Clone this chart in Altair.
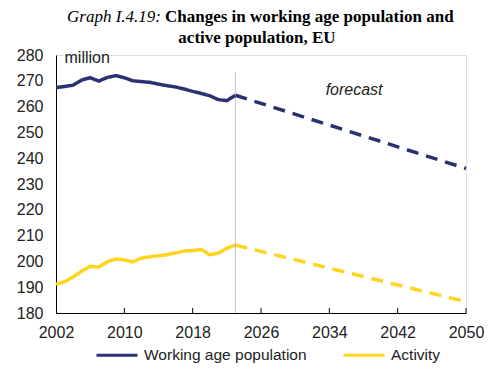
import altair as alt
import pandas as pd

years_hist = list(range(2002, 2024))
working_age = [267.4, 267.8, 268.3, 270.3, 271.2, 269.9, 271.3, 272.0, 271.2, 270.0,
               269.7, 269.4, 268.7, 268.1, 267.6, 266.8, 265.9, 265.1, 264.2, 262.7,
               262.3, 264.4]
activity = [191.2, 192.1, 194.0, 196.2, 198.1, 197.8, 199.8, 200.9, 200.6, 199.8,
            201.3, 201.8, 202.2, 202.6, 203.3, 204.0, 204.2, 204.6, 202.6, 203.2,
            205.1, 206.3]
years_fc = [2023, 2050]
working_age_fc = [264.4, 236.0]
activity_fc = [206.3, 184.4]

series_names = ["Working age population", "Activity"]
series_colors = ["#2B3272", "#FFD520"]
tick_years = [2002, 2010, 2018, 2026, 2034, 2042, 2050]
y_ticks = [180, 190, 200, 210, 220, 230, 240, 250, 260, 270, 280]
forecast_start = 2023

rows = []
for y, w, a in zip(years_hist, working_age, activity):
    rows.append({"year": y, "value": w, "series": series_names[0], "seg": "hist"})
    rows.append({"year": y, "value": a, "series": series_names[1], "seg": "hist"})
for y, w, a in zip(years_fc, working_age_fc, activity_fc):
    rows.append({"year": y, "value": w, "series": series_names[0], "seg": "fc"})
    rows.append({"year": y, "value": a, "series": series_names[1], "seg": "fc"})
df = pd.DataFrame(rows)

W, H = 410, 258
FONT = "Liberation Sans"
FS = 16

xscale = alt.Scale(domain=[2002, 2050], nice=False, zero=False)
yscale = alt.Scale(domain=[180, 280], nice=False, zero=False)
xaxis = alt.Axis(values=tick_years, format="d", grid=False, tickSize=0,
                 labelPadding=11, labelFontSize=FS, labelFont=FONT,
                 labelColor="#222", domainColor="#000", domainWidth=1,
                 labelFlush=False, labelOverlap=False)
yaxis = alt.Axis(values=y_ticks, grid=False, tickSize=0, labelPadding=13,
                 labelFontSize=FS, labelFont=FONT, labelColor="#222",
                 domainColor="#000", domainWidth=1, labelOverlap=False)
X = alt.X("year:Q", scale=xscale, title=None, axis=xaxis)
Y = alt.Y("value:Q", scale=yscale, title=None, axis=yaxis)

lines = alt.Chart(df).mark_line(strokeWidth=3.5).encode(
    x=X, y=Y,
    color=alt.Color("series:N", scale=alt.Scale(domain=series_names, range=series_colors),
                    sort=series_names,
                    legend=alt.Legend(title=None, orient="none", direction="horizontal",
                                      legendX=39, legendY=278, symbolType="stroke",
                                      symbolSize=1681, symbolStrokeWidth=3,
                                      labelFontSize=15.5, labelFont=FONT, labelColor="#222",
                                      labelLimit=400, columnPadding=30, labelOffset=5,
                                      padding=0)),
    strokeDash=alt.StrokeDash("seg:N", scale=alt.Scale(domain=["hist", "fc"],
                                                         range=[[1, 0], [12, 8]]),
                              legend=None),
    detail="seg:N",
)

vline_df = pd.DataFrame({"year": [forecast_start], "value": [273.2], "value2": [180]})
vline = alt.Chart(vline_df).mark_rule(color="#7C84B0", strokeWidth=1, strokeDash=[1, 1]).encode(
    x=X, y=Y, y2="value2:Q"
)

ticks_df = pd.DataFrame({"year": tick_years[1:]})
xticks = alt.Chart(ticks_df).mark_rule(color="#000", strokeWidth=1).encode(
    x=X, y=alt.value(H), y2=alt.value(H - 5)
)

ann_df = pd.DataFrame({"year": [2036.9], "value": [266.5], "label": ["forecast"]})
forecast_txt = alt.Chart(ann_df).mark_text(fontStyle="italic", fontSize=FS, font=FONT,
                                           color="#222", baseline="middle").encode(
    x=X, y=Y, text="label:N"
)

million_df = pd.DataFrame({"year": [2003.0], "value": [278.8], "label": ["million"]})
million_txt = alt.Chart(million_df).mark_text(fontSize=FS, font=FONT, color="#222",
                                              align="left", baseline="middle").encode(
    x=X, y=Y, text="label:N"
)

title_df = pd.DataFrame({"t1a": ["Graph I.4.19:"],
                         "t1b": ["Changes in working age population and"],
                         "t2": ["active population, EU"]})
TFS = 17
t1a = alt.Chart(title_df).mark_text(font="Liberation Serif", fontSize=TFS, fontStyle="italic",
                                    align="right", baseline="alphabetic", color="#000").encode(
    x=alt.value(105), y=alt.value(-33), text="t1a:N")
t1b = alt.Chart(title_df).mark_text(font="Liberation Serif", fontSize=TFS, fontWeight="bold",
                                    align="left", baseline="alphabetic", color="#000").encode(
    x=alt.value(109), y=alt.value(-33), text="t1b:N")
t2 = alt.Chart(title_df).mark_text(font="Liberation Serif", fontSize=TFS, fontWeight="bold",
                                   align="center", baseline="alphabetic", color="#000").encode(
    x=alt.value(201), y=alt.value(-12), text="t2:N")

chart = alt.layer(lines, vline, xticks, forecast_txt, million_txt, t1a, t1b, t2).properties(
    width=W, height=H,
    autosize=alt.AutoSizeParams(type="none"),
    padding={"left": 48, "top": 47, "right": 20, "bottom": 52},
).configure_view(stroke=None).configure(background="white")

chart.save("out.html", embed_options={"renderer": "svg", "actions": False})
